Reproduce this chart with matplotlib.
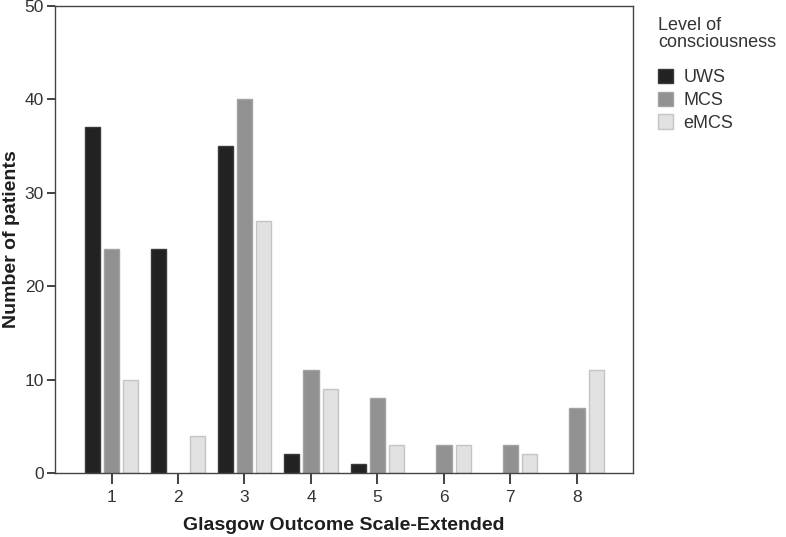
import numpy as np
import matplotlib
matplotlib.use('Agg')
import matplotlib.pyplot as plt

plt.rcParams['font.family'] = ['Liberation Sans', 'DejaVu Sans']

categories = [1, 2, 3, 4, 5, 6, 7, 8]
uws = [37, 24, 35, 2, 1, 0, 0, 0]
mcs = [24, 0, 40, 11, 8, 3, 3, 7]
emcs = [10, 4, 27, 9, 3, 3, 2, 11]
series_names = ['UWS', 'MCS', 'eMCS']

fig = plt.figure(figsize=(7.86, 5.37), dpi=100)
ax = fig.add_axes([0.070, 0.119, 0.735, 0.870])

x = np.array(categories, dtype=float)
w = 0.23
off = 0.29
colors = ['#222222', '#919191', '#e1e1e1']
edges = ['#3a3a3a', '#a3a3a3', '#c4c4c4']
for i, vals in enumerate([uws, mcs, emcs]):
    bars = ax.bar(x + (i - 1) * off, vals, width=w, color=colors[i],
                  edgecolor=edges[i], linewidth=1.0, label=series_names[i])
    for b, v in zip(bars, vals):
        if v == 0:
            b.set_visible(False)

ax.set_xlim(0.15, 8.84)
ax.set_ylim(0, 50)
ax.set_yticks([0, 10, 20, 30, 40, 50])
ax.set_xticks(categories)
ax.tick_params(axis='both', direction='out', width=1.3, colors='#333333',
               labelsize=12.5, labelcolor='#333333')
ax.tick_params(axis='x', length=8, pad=4)
ax.tick_params(axis='y', length=6, pad=2)
for s in ax.spines.values():
    s.set_color('#444444')
    s.set_linewidth(1.0)

ax.set_xlabel('Glasgow Outcome Scale-Extended', fontsize=14,
              fontweight='bold', color='#1e1e1e', labelpad=9)
ax.set_ylabel('Number of patients', fontsize=14, fontweight='bold',
              color='#1e1e1e', labelpad=3)

fig.text(0.837, 0.968, 'Level of\nconsciousness', fontsize=13,
         color='#333333', va='top', ha='left', linespacing=1.0)
leg = fig.legend(loc='upper left', bbox_to_anchor=(0.837, 0.872),
                 frameon=False, fontsize=13, handlelength=0.85,
                 handleheight=0.85, handletextpad=0.55, labelspacing=0.3,
                 borderaxespad=0, borderpad=0)
for t in leg.get_texts():
    t.set_color('#333333')

fig.savefig('out.png', dpi=100)
